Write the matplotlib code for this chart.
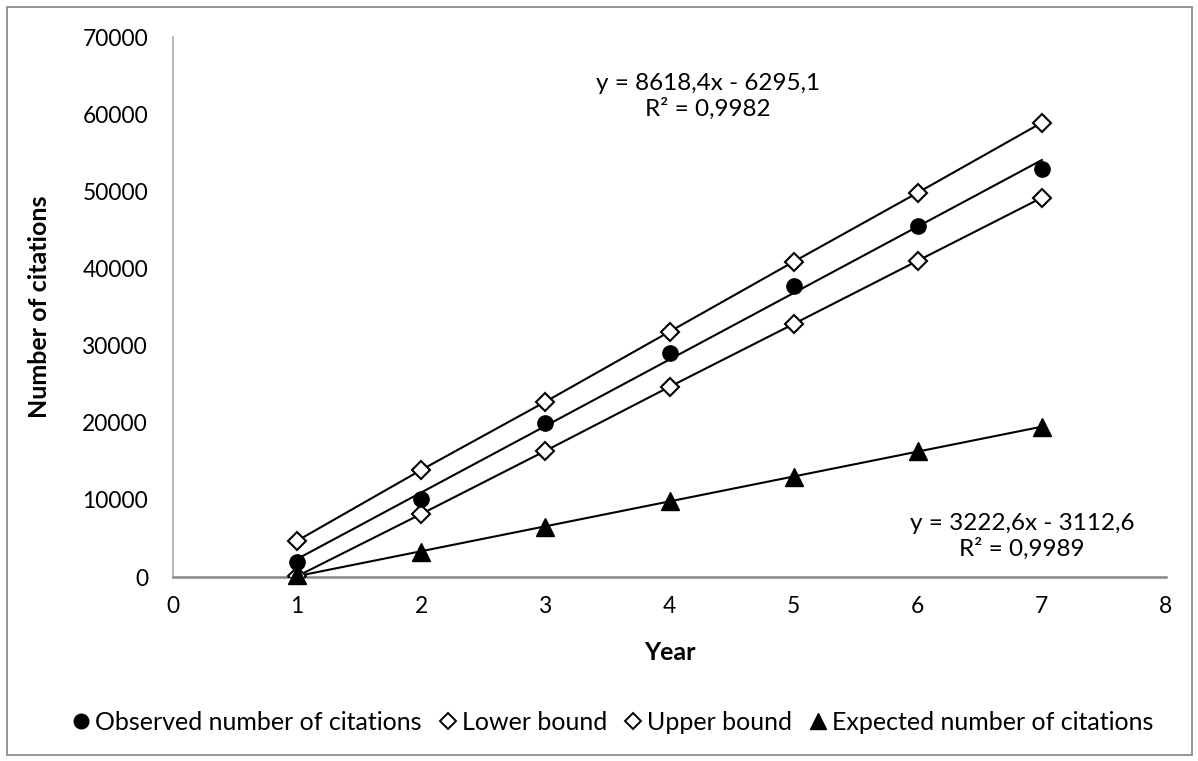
import numpy as np
import matplotlib
matplotlib.use("Agg")
import matplotlib.pyplot as plt
from matplotlib.lines import Line2D
from matplotlib.patches import Rectangle

# ---- data ----
years = [1, 2, 3, 4, 5, 6, 7]
observed = [2000, 10100, 20000, 29050, 37750, 45550, 52900]
lower_bound = [100, 8170, 16350, 24650, 32800, 41000, 49170]
upper_bound = [4700, 13880, 22720, 31800, 40870, 49820, 58900]
expected = [200, 3300, 6500, 9800, 13000, 16300, 19500]
x_ticks = [0, 1, 2, 3, 4, 5, 6, 7, 8]
y_ticks = [0, 10000, 20000, 30000, 40000, 50000, 60000, 70000]
legend_labels = ["Observed number of citations", "Lower bound", "Upper bound",
                 "Expected number of citations"]
eq_top = "y = 8618,4x - 6295,1\nR² = 0,9982"
eq_bottom = "y = 3222,6x - 3112,6\nR² = 0,9989"

plt.rcParams['font.family'] = ['Lato', 'DejaVu Sans']

W, H = 1198, 761
fig = plt.figure(figsize=(W / 100, H / 100), dpi=100)
fig.patch.set_facecolor('white')
renderer = fig.canvas.get_renderer()


def fit(text, target_px, weight='normal'):
    t = fig.text(0, 0, text, fontsize=20, fontweight=weight)
    w = t.get_window_extent(renderer).width
    t.remove()
    return 20 * target_px / w


FS = fit("Expected number of citations", 323)
FS_TICK = fit("70000", 66)
FS_EQ = fit("y = 8618,4x - 6295,1", 224)


def px(x, y):
    return x / W, 1 - y / H


# outer chart border
fig.add_artist(Rectangle((6.5 / W, 6.5 / H), (W - 13) / W, (H - 13) / H,
                         transform=fig.transFigure, fill=False,
                         edgecolor='#8c8c8c', lw=1.3))

left, right = 173 / W, 1166 / W
bottom, top = 1 - 577 / H, 1 - 37 / H
ax = fig.add_axes([left, bottom, right - left, top - bottom])

xs = np.array(years, dtype=float)


def trend(y):
    k, b = np.polyfit(xs, np.array(y, dtype=float), 1)
    return k * xs + b


lw = 1.5
ax.plot(xs, upper_bound, color='black', lw=lw, zorder=2)
ax.plot(xs, lower_bound, color='black', lw=lw, zorder=2)
ax.plot(xs, trend(observed), color='black', lw=lw, zorder=2)
ax.plot(xs, trend(expected), color='black', lw=lw, zorder=2)

ax.plot(xs, observed, 'o', color='black', ms=11, zorder=4)
ax.plot(xs, upper_bound, 'D', mfc='white', mec='black', mew=1.5, ms=8.8, zorder=3)
ax.plot(xs, lower_bound, 'D', mfc='white', mec='black', mew=1.5, ms=8.8, zorder=3)
ax.plot(xs, expected, '^', color='black', ms=13, zorder=4, clip_on=False)

ax.set_xlim(0, 8)
ax.set_ylim(0, 70000)
ax.set_xticks(x_ticks)
ax.set_yticks(y_ticks)
ax.set_xticklabels([str(v) for v in x_ticks], fontsize=FS_TICK)
ax.set_yticklabels([str(v) for v in y_ticks], fontsize=FS_TICK)
ax.tick_params(axis='both', length=0)
ax.tick_params(axis='x', pad=14)
ax.tick_params(axis='y', pad=18)

for s in ['top', 'right']:
    ax.spines[s].set_visible(False)
ax.spines['bottom'].set_color('#878787')
ax.spines['bottom'].set_linewidth(1.8)
ax.spines['left'].set_color('#a6a6a6')
ax.spines['left'].set_linewidth(1.1)
ax.spines['left'].set_linestyle((0, (0.9, 0.9)))

# axis titles
fig.text(*px(670, 652), "Year", fontsize=FS, fontweight='bold', ha='center', va='center')
fig.text(*px(40, 307), "Number of citations", fontsize=FS, fontweight='bold',
         ha='center', va='center', rotation=90)

# trendline equations
fig.text(*px(708, 96), eq_top, fontsize=FS_EQ, ha='center', va='center', linespacing=1.2)
fig.text(*px(1022, 536), eq_bottom, fontsize=FS_EQ, ha='center', va='center', linespacing=1.2)

handles = [
    Line2D([], [], ls='none', marker='o', color='black', ms=10.5),
    Line2D([], [], ls='none', marker='D', mfc='white', mec='black', mew=1.4, ms=8),
    Line2D([], [], ls='none', marker='D', mfc='white', mec='black', mew=1.4, ms=8),
    Line2D([], [], ls='none', marker='^', color='black', ms=12),
]
fig.legend(handles, legend_labels, loc='center', bbox_to_anchor=px(613, 722),
           ncol=4, frameon=False, fontsize=FS, handlelength=0.7,
           handletextpad=0.2, columnspacing=0.7, borderpad=0, borderaxespad=0)

fig.savefig("out.png", dpi=100)
